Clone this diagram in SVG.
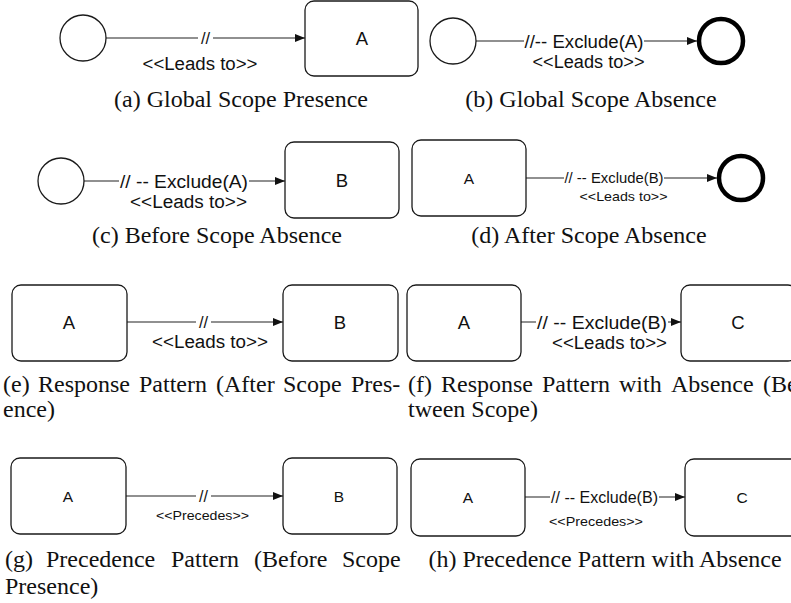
<svg xmlns="http://www.w3.org/2000/svg" width="791" height="603" viewBox="0 0 791 603">
<style>
.bg{fill:#ffffff}
.node{fill:#ffffff;stroke:#1a1a1a;stroke-width:1.3}
.end{fill:#ffffff;stroke:#000000;stroke-width:4.5}
.edge{fill:none;stroke:#222222;stroke-width:1.2}
.lbg{fill:#ffffff;stroke:none}
.lbl{font-family:"Liberation Sans",Arial,sans-serif;fill:#111111;text-anchor:middle}
.ntx{font-family:"Liberation Sans",Arial,sans-serif;fill:#111111;text-anchor:middle}
.cap{font-family:"Liberation Serif","Times New Roman",serif;font-size:24px;fill:#111111}
.capm{text-anchor:middle}
</style>
<defs>
<marker id="arr" markerUnits="userSpaceOnUse" markerWidth="10" markerHeight="8" refX="10" refY="4" orient="auto">
<path d="M0,0 L10,4 L0,8 z" fill="#111111"/>
</marker>
</defs>
<rect class="bg" x="0" y="0" width="791" height="603"/>

<g id="connectors">
<path class="edge" d="M106,38 H305" marker-end="url(#arr)"/>
<path class="edge" d="M476,41 H697" marker-end="url(#arr)"/>
<path class="edge" d="M84,181 H285" marker-end="url(#arr)"/>
<path class="edge" d="M526,178 H717" marker-end="url(#arr)"/>
<path class="edge" d="M127,322 H283" marker-end="url(#arr)"/>
<path class="edge" d="M521,322 H681" marker-end="url(#arr)"/>
<path class="edge" d="M126,496 H283" marker-end="url(#arr)"/>
<path class="edge" d="M525,497 H685" marker-end="url(#arr)"/>

<rect class="lbg" x="198" y="30" width="15" height="16"/>
<text class="lbl" x="205.5" y="44" font-size="16.5">//</text>
<text class="lbl" x="200" y="70" font-size="18" textLength="115" lengthAdjust="spacingAndGlyphs">&lt;&lt;Leads to&gt;&gt;</text>

<rect class="lbg" x="524" y="33" width="120" height="17"/>
<text class="lbl" x="584" y="48" font-size="18" textLength="119" lengthAdjust="spacingAndGlyphs">//-- Exclude(A)</text>
<text class="lbl" x="588.5" y="68" font-size="18" textLength="112" lengthAdjust="spacingAndGlyphs">&lt;&lt;Leads to&gt;&gt;</text>

<rect class="lbg" x="119" y="172" width="130" height="18"/>
<text class="lbl" x="184" y="188" font-size="18" textLength="128" lengthAdjust="spacingAndGlyphs">// -- Exclude(A)</text>
<text class="lbl" x="188.5" y="208" font-size="18" textLength="117" lengthAdjust="spacingAndGlyphs">&lt;&lt;Leads to&gt;&gt;</text>

<rect class="lbg" x="564" y="170" width="100" height="15"/>
<text class="lbl" x="614" y="183" font-size="14.5" textLength="99" lengthAdjust="spacingAndGlyphs">// -- Exclude(B)</text>
<text class="lbl" x="623.5" y="201" font-size="13" textLength="88" lengthAdjust="spacingAndGlyphs">&lt;&lt;Leads to&gt;&gt;</text>

<rect class="lbg" x="196" y="314" width="15" height="16"/>
<text class="lbl" x="203.5" y="328" font-size="16.5">//</text>
<text class="lbl" x="210" y="348" font-size="18" textLength="116" lengthAdjust="spacingAndGlyphs">&lt;&lt;Leads to&gt;&gt;</text>

<rect class="lbg" x="536" y="313" width="132" height="18"/>
<text class="lbl" x="602" y="329" font-size="18" textLength="130" lengthAdjust="spacingAndGlyphs">// -- Exclude(B)</text>
<text class="lbl" x="609.5" y="349" font-size="18" textLength="115" lengthAdjust="spacingAndGlyphs">&lt;&lt;Leads to&gt;&gt;</text>

<rect class="lbg" x="196" y="488" width="15" height="16"/>
<text class="lbl" x="203.5" y="502" font-size="16">//</text>
<text class="lbl" x="202.5" y="520" font-size="13.5" textLength="93" lengthAdjust="spacingAndGlyphs">&lt;&lt;Precedes&gt;&gt;</text>

<rect class="lbg" x="550" y="488" width="109" height="17"/>
<text class="lbl" x="604.5" y="503" font-size="16" textLength="107" lengthAdjust="spacingAndGlyphs">// -- Exclude(B)</text>
<text class="lbl" x="596" y="526" font-size="13.5" textLength="94" lengthAdjust="spacingAndGlyphs">&lt;&lt;Precedes&gt;&gt;</text>
</g>

<g id="a-start"><circle class="node" cx="83" cy="38" r="23"/></g>
<g id="a-A"><rect class="node" x="305" y="1" width="113" height="75" rx="9"/><text class="ntx" x="362" y="45" font-size="18.5">A</text></g>

<g id="b-start"><circle class="node" cx="453" cy="41" r="23"/></g>
<g id="b-end"><circle class="end" cx="721" cy="41" r="22"/></g>

<g id="c-start"><circle class="node" cx="61" cy="181" r="23"/></g>
<g id="c-B"><rect class="node" x="285" y="142" width="114" height="76" rx="9"/><text class="ntx" x="342" y="187" font-size="18.5">B</text></g>

<g id="d-A"><rect class="node" x="412" y="140" width="114" height="76" rx="9"/><text class="ntx" x="469" y="184" font-size="15.5">A</text></g>
<g id="d-end"><circle class="end" cx="741" cy="178" r="22"/></g>

<g id="e-A"><rect class="node" x="12" y="285" width="115" height="76" rx="9"/><text class="ntx" x="69" y="329" font-size="18.5">A</text></g>
<g id="e-B"><rect class="node" x="283" y="285" width="115" height="76" rx="9"/><text class="ntx" x="340" y="329" font-size="18.5">B</text></g>

<g id="f-A"><rect class="node" x="407" y="285" width="114" height="76" rx="9"/><text class="ntx" x="464" y="329" font-size="18.5">A</text></g>
<g id="f-C"><rect class="node" x="681" y="285" width="116" height="76" rx="9"/><text class="ntx" x="738" y="329" font-size="18.5">C</text></g>

<g id="g-A"><rect class="node" x="11" y="458" width="115" height="76" rx="9"/><text class="ntx" x="68" y="502" font-size="15.5">A</text></g>
<g id="g-B"><rect class="node" x="283" y="458" width="114" height="76" rx="9"/><text class="ntx" x="339" y="502" font-size="15.5">B</text></g>

<g id="h-A"><rect class="node" x="411" y="459" width="114" height="77" rx="9"/><text class="ntx" x="468" y="503" font-size="15.5">A</text></g>
<g id="h-C"><rect class="node" x="685" y="459" width="116" height="77" rx="9"/><text class="ntx" x="742" y="503" font-size="15.5">C</text></g>

<g id="captions">
<text class="cap capm" x="241" y="107">(a)  Global Scope Presence</text>
<text class="cap capm" x="591" y="107">(b)  Global Scope Absence</text>
<text class="cap capm" x="217" y="243">(c)  Before Scope Absence</text>
<text class="cap capm" x="589" y="243">(d)  After Scope Absence</text>
<text class="cap" y="392"><tspan x="3">(e)</tspan><tspan x="38">Response</tspan><tspan x="139">Pattern</tspan><tspan x="216">(After</tspan><tspan x="283">Scope</tspan><tspan x="351">Pres-</tspan></text>
<text class="cap" x="3" y="417">ence)</text>
<text class="cap" y="392"><tspan x="408">(f)</tspan><tspan x="441">Response</tspan><tspan x="542">Pattern</tspan><tspan x="619">with</tspan><tspan x="671">Absence</tspan><tspan x="763">(Be-</tspan></text>
<text class="cap" x="408" y="417">tween Scope)</text>
<text class="cap" y="567"><tspan x="5">(g)</tspan><tspan x="46">Precedence</tspan><tspan x="171">Pattern</tspan><tspan x="254">(Before</tspan><tspan x="342">Scope</tspan></text>
<text class="cap" x="5" y="594">Presence)</text>
<text class="cap capm" x="605" y="567">(h)  Precedence Pattern with Absence</text>
</g>
</svg>
